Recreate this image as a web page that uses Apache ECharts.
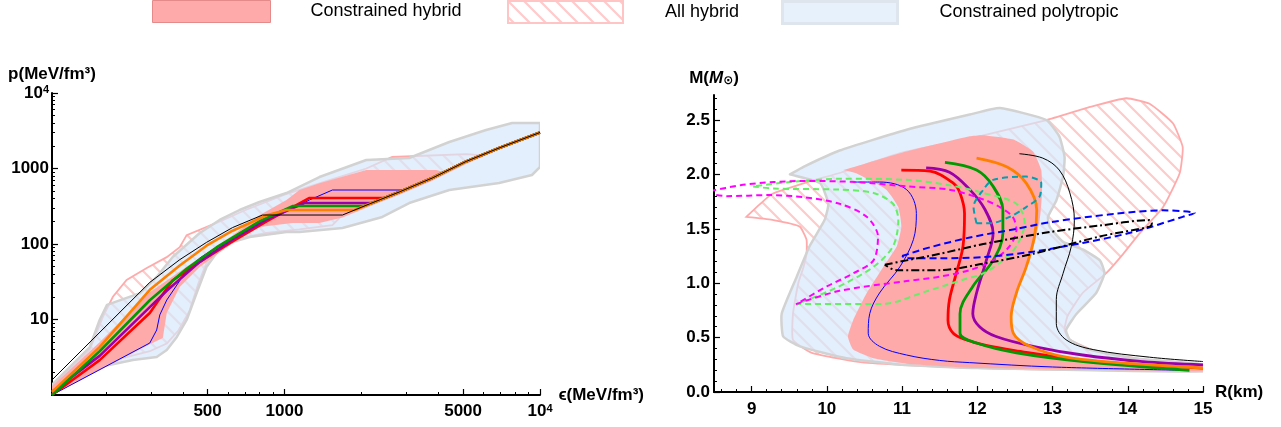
<!DOCTYPE html>
<html><head><meta charset="utf-8">
<script src="https://cdn.jsdelivr.net/npm/echarts@6/dist/echarts.min.js"></script>
<style>html,body{margin:0;padding:0;background:#fff}#c{width:1281px;height:427px}</style>
</head><body><div id="c"></div>
<script>
// ===================== DATA =====================
// Left panel: p(eps) in MeV/fm^3, log-log
const epsTickLabels = [500, 1000, 5000, 10000];
const epsMinorTicks = [200, 300, 400, 600, 700, 800, 900, 2000, 3000, 4000, 6000, 7000, 8000, 9000];
const pTickLabels = [10, 100, 1000, 10000];
const pMinorTicks = [2,3,4,5,6,7,8,9,20,30,40,50,60,70,80,90,200,300,400,500,600,700,800,900,2000,3000,4000,5000,6000,7000,8000,9000];

// common stiff branch shared by all hybrid EoS
const eosCommon = [[1686,242],[2148,339],[2815,489],[3787,748],[5140,1240],[6918,1870],[10000,3000]];
const eosBlue   = [[123,1.0],[297,4.88],[316,7.26],[325,11.5],[346,18.1],[379,28.6],[414,45.3],[466,65],[542,91],[667,140],[798,196],[1000,265],[1253,383],[1540,519],[2930,519]];
const eosRed    = [[123,1.0],[189,2.9],[297,12.2],[316,16.5],[365,33],[466,58],[626,108],[851,200],[1253,407],[2460,407]];
const eosPurple = [[123,1.1],[189,3.3],[297,14.6],[346,24],[466,58],[626,115],[851,210],[1197,349],[2197,349]];
const eosGreen  = [[123,1.0],[189,3.8],[297,18],[346,28],[414,47],[542,90],[798,200],[1075,318],[2050,318]];
const eosOrange = [[123,1.1],[189,4.3],[297,24.7],[389,52],[495,95],[626,150],[851,240],[1018,282],[1880,282]];
const eosBlack  = [[123,1.58],[297,31],[389,62],[495,105],[626,165],[820,242],[1686,242]];

const eosPolyRegion = [[123,1.0],[123,1.36],[173,4.32],[189,9.85],[202,15.6],[272,22.4],[316,36.6],[365,67.3],[466,140],[557,208],[667,282],[798,360],[1018,473],[1370,771],[2090,1297],[3076,1377],[4415,2244],[6150,3236],[7780,4010],[10000,4010],[10000,1047],[9300,820],[6918,643],[4415,519],[3076,349],[2415,228],[1686,163],[1144,144],[1018,144],[730,124],[626,106],[542,76],[495,49.6],[453,22.4],[414,9.85],[379,5.87],[346,3.95],[316,3.18],[255,2.91],[189,2.35],[154,2.14],[129,1.24],[123,1.0]];
const eosHybridRegion = [[123,1.0],[123,1.3],[189,5],[297,23],[414,50],[542,95],[626,130],[798,240],[1018,383],[1144,520],[1370,640],[2090,955],[3930,955],[4300,880],[6918,1950],[10000,3150],[10000,2850],[6918,1780],[5140,1150],[3787,690],[2815,450],[2148,315],[1686,225],[1370,190],[1075,190],[798,168],[593,91],[466,49.6],[389,26.9],[346,12.2],[334,5.7],[297,4.7],[123,1.0]];
const eosAllHybridRegion = [[123,1.0],[123,1.3],[173,4.0],[195,11],[213,20],[241,33.4],[289,48],[346,67],[389,91],[414,131],[542,190],[700,280],[1000,450],[1500,700],[2090,1000],[2640,1420],[5140,1550],[5800,1500],[5140,1240],[3787,748],[2815,489],[2148,339],[1686,242],[1540,178],[1144,156],[851,140],[626,114],[542,84],[495,56],[460,30],[425,13],[385,7.2],[346,4.8],[297,3.8],[200,2.7],[150,2.3],[123,1.0]];

// Right panel: M(R)
const rTickLabels = [9, 10, 11, 12, 13, 14, 15];
const mTickLabels = [0, 0.5, 1.0, 1.5, 2.0, 2.5];

const mrRed    = [[10.99,2.04],[11.37,2.03],[11.68,1.92],[11.77,1.83],[11.83,1.64],[11.81,1.34],[11.72,1.09],[11.63,0.85],[11.61,0.66],[11.68,0.54],[11.85,0.48],[12.1,0.43],[12.5,0.38],[13.4,0.29],[14.2,0.25],[15.0,0.22]];
const mrPurple = [[11.32,2.06],[11.63,2.02],[11.9,1.86],[12.1,1.68],[12.21,1.46],[12.12,1.21],[11.99,0.91],[11.94,0.72],[12.03,0.60],[12.25,0.51],[12.74,0.42],[13.4,0.34],[14.2,0.28],[15.0,0.25]];
const mrGreen  = [[11.57,2.11],[11.99,2.04],[12.21,1.89],[12.34,1.67],[12.34,1.46],[12.21,1.21],[11.94,0.97],[11.77,0.72],[11.77,0.54],[11.99,0.45],[12.52,0.36],[13.41,0.28],[14.82,0.20]];
const mrOrange = [[11.99,2.15],[12.39,2.07],[12.65,1.92],[12.79,1.67],[12.76,1.43],[12.65,1.15],[12.52,0.91],[12.45,0.69],[12.48,0.54],[12.70,0.42],[13.18,0.32],[14.07,0.26],[15.0,0.22]];
const mrBlackThin = [[12.56,2.19],[12.87,2.15],[13.09,2.04],[13.23,1.83],[13.29,1.58],[13.25,1.34],[13.14,1.09],[13.05,0.85],[13.05,0.63],[13.18,0.48],[13.54,0.39],[14.29,0.32],[15.0,0.28]];
const mrBlueThin  = [[10.35,1.93],[10.7,1.93],[11.06,1.86],[11.19,1.64],[11.15,1.40],[10.97,1.15],[10.70,0.91],[10.57,0.72],[10.55,0.54],[10.70,0.42],[11.06,0.34],[11.5,0.29],[11.9,0.27],[13.0,0.23],[14.73,0.20]];
const mrMagentaDash = [[8.4,1.83],[8.67,1.80],[9.24,1.81],[9.7,1.79],[10.17,1.73],[10.53,1.61],[10.68,1.43],[10.62,1.21],[10.35,1.09],[10.0,0.97],[9.60,0.81],[10.17,0.93],[11.06,1.02],[11.5,1.06],[11.9,1.12],[12.21,1.21],[12.43,1.34],[12.52,1.49],[12.47,1.61],[12.3,1.70],[12.08,1.77],[11.63,1.86],[11.06,1.89],[10.39,1.93],[9.73,1.94],[9.29,1.93],[8.85,1.90],[8.4,1.84]];
const mrGreenDash = [[9.02,1.89],[9.29,1.87],[10.17,1.86],[10.62,1.83],[10.88,1.73],[10.95,1.58],[10.88,1.34],[10.62,1.15],[10.1,0.95],[9.60,0.81],[10.75,0.81],[11.3,0.92],[11.8,1.03],[12.08,1.09],[12.34,1.21],[12.52,1.34],[12.63,1.55],[12.52,1.73],[12.08,1.83],[11.63,1.90],[11.06,1.95],[10.2,1.96],[9.51,1.93],[9.02,1.89]];
const mrCyanDash = [[11.99,1.55],[11.95,1.70],[12.08,1.86],[12.21,1.95],[12.65,1.98],[12.85,1.92],[12.83,1.80],[12.65,1.70],[12.43,1.61],[12.17,1.55],[11.99,1.55]];
const mrBlueDash = [[11.0,1.25],[11.37,1.33],[11.9,1.42],[12.52,1.50],[12.96,1.56],[13.85,1.64],[14.47,1.67],[14.89,1.645],[14.73,1.61],[14.07,1.47],[13.40,1.37],[12.74,1.29],[12.08,1.24],[11.5,1.23],[11.06,1.23],[11.0,1.25]];
const mrBlackDashDot = [[10.77,1.17],[11.06,1.21],[11.5,1.27],[12.08,1.36],[12.96,1.47],[13.63,1.53],[14.29,1.58],[14.32,1.55],[14.29,1.52],[13.63,1.43],[12.74,1.27],[12.08,1.18],[11.5,1.12],[10.92,1.12],[10.77,1.17]];

const mrPolyRegion = [[9.51,2.0],[9.69,2.07],[10.17,2.22],[11.06,2.41],[11.9,2.55],[12.30,2.61],[12.92,2.50],[13.09,2.35],[13.16,2.16],[13.14,1.98],[13.05,1.76],[12.94,1.61],[12.96,1.52],[13.14,1.38],[13.40,1.31],[13.63,1.21],[13.69,1.09],[13.58,0.91],[13.32,0.72],[13.18,0.57],[13.23,0.48],[13.49,0.39],[14.07,0.31],[15.02,0.25],[15.02,0.19],[12.0,0.22],[11.0,0.25],[10.26,0.31],[9.64,0.42],[9.42,0.51],[9.40,0.72],[9.60,1.06],[9.77,1.34],[9.97,1.58],[10.02,1.73],[9.91,1.92],[9.51,2.0]];
const mrHybridRegion = [[10.22,2.04],[11.0,2.2],[11.9,2.35],[12.08,2.36],[12.48,2.32],[12.74,2.21],[12.85,2.04],[12.86,1.83],[12.83,1.58],[12.70,1.21],[12.52,0.91],[12.45,0.63],[12.52,0.48],[12.87,0.36],[13.85,0.26],[15.02,0.22],[15.02,0.19],[12.0,0.22],[11.06,0.26],[10.62,0.31],[10.35,0.39],[10.28,0.51],[10.35,0.66],[10.53,0.91],[10.75,1.15],[10.93,1.34],[10.99,1.52],[10.95,1.70],[10.79,1.86],[10.39,2.01],[10.22,2.04]];
const mrAllHybridRegion = [[8.93,1.61],[9.1,1.72],[9.27,1.82],[9.7,1.92],[10.2,2.02],[11.0,2.2],[11.9,2.33],[12.92,2.50],[13.5,2.62],[13.98,2.70],[14.29,2.65],[14.6,2.47],[14.73,2.25],[14.69,2.01],[14.47,1.70],[14.16,1.46],[13.94,1.27],[13.71,1.09],[13.40,0.91],[13.2,0.7],[13.16,0.57],[13.23,0.48],[13.6,0.37],[14.3,0.29],[15.0,0.24],[15.0,0.19],[12.0,0.22],[10.5,0.27],[9.8,0.36],[9.55,0.48],[9.55,0.72],[9.62,1.0],[9.69,1.15],[9.73,1.27],[9.73,1.40],[9.64,1.52],[9.29,1.58],[8.93,1.61]];

const legendNames = ['Constrained hybrid', 'All hybrid', 'Constrained polytropic'];

// ===================== BUILD =====================
const FONT = '"Liberation Sans", Arial, Helvetica, sans-serif';
const L = v => Math.log10(v);
const C = {hyb:'#ffaaaa', polyFill:'rgba(213,231,250,0.68)', polyStroke:'#d2d2d2', allStroke:'#ffaaaa'};

function hatchImage(){
  const s = 16, c = document.createElement('canvas'); c.width = s; c.height = s;
  const g = c.getContext('2d'); g.strokeStyle = '#ffcaca'; g.lineWidth = 2.2;
  g.beginPath();
  for (const o of [-s, 0, s]) { g.moveTo(o - 3, -3); g.lineTo(o + s + 3, s + 3); }
  g.stroke();
  return c;
}
const hatch = {image: hatchImage(), repeat: 'repeat'};

function withCommon(c){
  const last = c[c.length-1][0];
  return c.concat(eosCommon.filter(p => p[0] > last + 1));
}
function region(name, pts, style, gi, logT){
  const d = pts.map(p => logT ? [L(p[0]), L(p[1])] : p);
  return {type:'custom', name, xAxisIndex: gi*2, yAxisIndex: gi*2, silent:true, clip:true, animation:false,
    data: d,
    renderItem(params, api){
      if (params.dataIndex !== 0) return null;
      return {type:'polygon', shape:{points: d.map(q => api.coord(q)), smooth: logT ? 0 : 0.15}, style: style};
    }};
}
function curve(name, pts, color, width, type, gi, logT, smooth){
  return {type:'line', name, xAxisIndex: gi*2, yAxisIndex: gi*2, silent:true, animation:false,
    data: pts.map(p => logT ? [L(p[0]), L(p[1])] : p),
    showSymbol:false, symbol:'none', smooth: smooth || false, clip:true,
    lineStyle:{color, width, type: type || 'solid', cap:'butt', join:'round'}};
}

const lblStyle = {color:'#000', fontSize:17, fontFamily:FONT, fontWeight:'bold'};
const rich = {b:{fontSize:17, fontFamily:FONT, fontWeight:'bold', color:'#000'}, s:{fontSize:11, fontFamily:FONT, fontWeight:'bold', color:'#000', verticalAlign:'top', padding:[0,0,6,0]}};
const axLine = {show:true, onZero:false, lineStyle:{color:'#000', width:2}};

function rMinor(){ const a=[]; for(let i=43;i<=75;i++){ if(i%5) a.push(i/5);} return a; }
function mMinor(){ const a=[]; for(let i=1;i<=27;i++){ if(i%5) a.push(i/10);} return a; }

function legendBox(i, left, pad, itemWidth, itemStyle){
  return {show:true, left, top:0, padding:0, itemWidth, itemHeight:22, icon:'rect', selectedMode:false,
    textStyle:{fontSize:18, fontFamily:FONT, color:'#000', padding:[0,0,0,pad]},
    data:[{name:legendNames[i], itemStyle}]};
}

const option = {
  animation:false,
  backgroundColor:'#fff',
  legend:[
    legendBox(0, 152, 35, 118, {color:C.hyb, borderColor:'#e58a8a', borderWidth:1}),
    legendBox(1, 507, 37, 115, {color:hatch, borderColor:'#ffc4c4', borderWidth:2}),
    legendBox(2, 781, 37, 115, {color:'#e6f1fb', borderColor:'#dfe5ec', borderWidth:3})
  ],
  grid:[
    {left:52, top:93, width:488, height:302},
    {left:714, top:95, width:489, height:297}
  ],
  xAxis:[
    {type:'value', gridIndex:0, min:2.09, max:4, position:'bottom', axisLine:axLine, splitLine:{show:false},
      axisTick:{show:true, inside:true, length:6, lineStyle:{color:'#000', width:1.2}, customValues: epsTickLabels.map(L)},
      axisLabel:{show:true, margin:8, ...lblStyle, customValues: epsTickLabels.map(L), rich,
        formatter: v => { const n = Math.round(Math.pow(10, v)); return n === 10000 ? '{b|10}{s|4}' : '{b|' + n + '}'; }},
      name:'ϵ(MeV/fm³)', nameLocation:'end', nameGap:6, nameTextStyle:{...lblStyle, verticalAlign:'middle', padding:[0,0,8,0]}},
    {type:'value', gridIndex:0, min:2.09, max:4, position:'bottom', axisLine:{show:false}, splitLine:{show:false}, axisLabel:{show:false},
      axisTick:{show:true, inside:true, length:3, lineStyle:{color:'#000', width:1}, customValues: epsMinorTicks.map(L)}},
    {type:'value', gridIndex:1, min:8.5, max:15, position:'bottom', axisLine:axLine, splitLine:{show:false},
      axisTick:{show:true, inside:true, length:6, lineStyle:{color:'#000', width:1.2}, customValues: rTickLabels},
      axisLabel:{show:true, margin:9, ...lblStyle, customValues: rTickLabels, formatter: v => String(v)},
      name:'R(km)', nameLocation:'end', nameGap:12, nameTextStyle:{...lblStyle, verticalAlign:'middle', padding:[0,0,6,0]}},
    {type:'value', gridIndex:1, min:8.5, max:15, position:'bottom', axisLine:{show:false}, splitLine:{show:false}, axisLabel:{show:false},
      axisTick:{show:true, inside:true, length:3, lineStyle:{color:'#000', width:1}, customValues: rMinor()}}
  ],
  yAxis:[
    {type:'value', gridIndex:0, min:0, max:4, position:'left', axisLine:axLine, splitLine:{show:false},
      axisTick:{show:true, inside:true, length:6, lineStyle:{color:'#000', width:1.2}, customValues: pTickLabels.map(L)},
      axisLabel:{show:true, margin:3, ...lblStyle, customValues: pTickLabels.map(L), rich,
        formatter: v => { const n = Math.round(Math.pow(10, v)); return n === 10000 ? '{b|10}{s|4}' : '{b|' + n + '}'; }},
      name:'p(MeV/fm³)', nameLocation:'end', nameGap:10, nameTextStyle:{...lblStyle, align:'center'}},
    {type:'value', gridIndex:0, min:0, max:4, position:'left', axisLine:{show:false}, splitLine:{show:false}, axisLabel:{show:false},
      axisTick:{show:true, inside:true, length:3, lineStyle:{color:'#000', width:1}, customValues: pMinorTicks.map(L)}},
    {type:'value', gridIndex:1, min:0, max:2.73, position:'left', axisLine:axLine, splitLine:{show:false},
      axisTick:{show:true, inside:true, length:6, lineStyle:{color:'#000', width:1.2}, customValues: mTickLabels},
      axisLabel:{show:true, margin:4, ...lblStyle, customValues: mTickLabels, formatter: v => v.toFixed(1)},
      name:'{b|M(}{i|M}{sub|⊙}{b|)}', nameLocation:'end', nameGap:8,
      nameTextStyle:{...lblStyle, align:'center', rich:{b:{fontSize:17, fontFamily:FONT, fontWeight:'bold', color:'#000'}, i:{fontSize:17, fontFamily:FONT, fontWeight:'bold', fontStyle:'italic', color:'#000'}, sub:{fontSize:12, fontFamily:'"DejaVu Sans", sans-serif', color:'#000', verticalAlign:'bottom', padding:[6,0,0,0]}}}},
    {type:'value', gridIndex:1, min:0, max:2.73, position:'left', axisLine:{show:false}, splitLine:{show:false}, axisLabel:{show:false},
      axisTick:{show:true, inside:true, length:3, lineStyle:{color:'#000', width:1}, customValues: mMinor()}}
  ],
  series:[
    // left regions
    region(legendNames[1], eosAllHybridRegion, {fill:hatch, stroke:C.allStroke, lineWidth:1.8}, 0, true),
    region(legendNames[2], eosPolyRegion, {fill:C.polyFill, stroke:C.polyStroke, lineWidth:2.5, lineJoin:'round'}, 0, true),
    region(legendNames[0], eosHybridRegion, {fill:C.hyb, stroke:null}, 0, true),
    // left curves
    curve('eosBlue', withCommon(eosBlue), '#0000ff', 1, 'solid', 0, true),
    curve('eosRed', withCommon(eosRed), '#ff0000', 2.6, 'solid', 0, true),
    curve('eosPurple', withCommon(eosPurple), '#9900aa', 2.6, 'solid', 0, true),
    curve('eosGreen', withCommon(eosGreen), '#009900', 2.6, 'solid', 0, true),
    curve('eosOrange', withCommon(eosOrange), '#ff8000', 2.6, 'solid', 0, true),
    curve('eosBlack', withCommon(eosBlack), '#000000', 1, 'solid', 0, true),
    // right regions
    region(legendNames[1], mrAllHybridRegion, {fill:hatch, stroke:C.allStroke, lineWidth:1.8}, 1, false),
    region(legendNames[2], mrPolyRegion, {fill:C.polyFill, stroke:C.polyStroke, lineWidth:2.5, lineJoin:'round'}, 1, false),
    region(legendNames[0], mrHybridRegion, {fill:C.hyb, stroke:null}, 1, false),
    // right curves
    curve('mrBlueThin', mrBlueThin, '#0000ff', 1, 'solid', 1, false, 0.35),
    curve('mrBlackThin', mrBlackThin, '#000000', 1, 'solid', 1, false, 0.35),
    curve('mrRed', mrRed, '#ff0000', 2.8, 'solid', 1, false, 0.35),
    curve('mrPurple', mrPurple, '#9900aa', 2.8, 'solid', 1, false, 0.35),
    curve('mrGreen', mrGreen, '#009900', 2.8, 'solid', 1, false, 0.35),
    curve('mrOrange', mrOrange, '#ff8000', 2.8, 'solid', 1, false, 0.35),
    curve('mrGreenDash', mrGreenDash, '#66ee66', 2, [6,4], 1, false, 0.3),
    curve('mrMagentaDash', mrMagentaDash, '#ff00ff', 2, [6,4], 1, false, 0.3),
    curve('mrCyanDash', mrCyanDash, '#00a0b0', 2, [6,4], 1, false, 0.3),
    curve('mrBlueDash', mrBlueDash, '#0000ff', 2, [7,4], 1, false, 0.3),
    curve('mrBlackDashDot', mrBlackDashDot, '#000000', 2, [8,3,2,3], 1, false, 0.3)
  ]
};
const chart = echarts.init(document.getElementById('c'), null, {renderer:'canvas'});
chart.setOption(option);
</script></body></html>
